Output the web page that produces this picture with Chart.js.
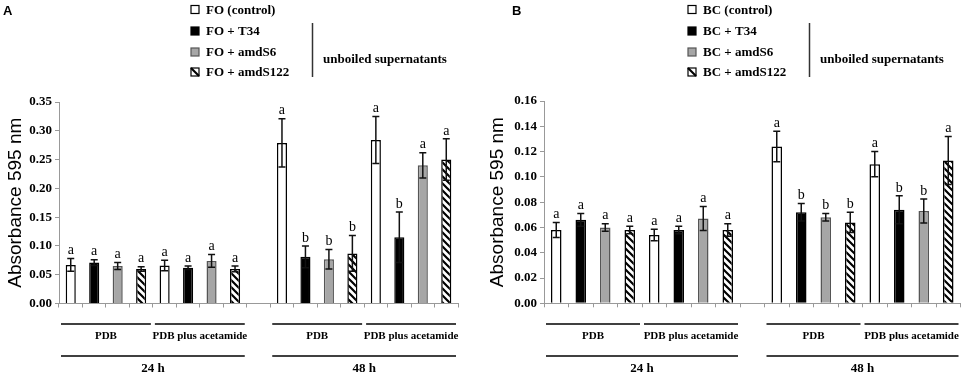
<!DOCTYPE html>
<html>
<head>
<meta charset="utf-8">
<script src="https://cdn.jsdelivr.net/npm/chart.js@4"></script>
<style>
  body { margin: 0; background: #fff; }
  canvas { position: absolute; top: 0; }
</style>
</head>
<body>
<canvas id="chartA" width="482" height="375" style="left:0"></canvas>
<canvas id="chartB" width="482" height="375" style="left:482px"></canvas>
<script>
// conditions, in the order they appear along the x axis
const conditions = ['24 h PDB', '24 h PDB plus acetamide', '48 h PDB', '48 h PDB plus acetamide'];
const treatments = ['control', 'T34', 'amdS6', 'amdS122'];
const mediumLabels = ['PDB', 'PDB plus acetamide', 'PDB', 'PDB plus acetamide'];
const timeLabels = ['24 h', '48 h'];

// panel A - Fusarium oxysporum
const foLabels = ['FO (control)', 'FO + T34', 'FO + amdS6', 'FO + amdS122'];
const foControl = [0.067, 0.066, 0.279, 0.284];
const foT34 = [0.071, 0.062, 0.081, 0.115];
const foAmdS6 = [0.065, 0.074, 0.077, 0.240];
const foAmdS122 = [0.060, 0.060, 0.087, 0.250];
const foControlErr = [0.011, 0.009, 0.042, 0.041];
const foT34Err = [0.005, 0.003, 0.019, 0.044];
const foAmdS6Err = [0.006, 0.011, 0.017, 0.022];
const foAmdS122Err = [0.004, 0.005, 0.031, 0.036];
const foControlSig = ['a', 'a', 'a', 'a'];
const foT34Sig = ['a', 'a', 'b', 'b'];
const foAmdS6Sig = ['a', 'a', 'b', 'a'];
const foAmdS122Sig = ['a', 'a', 'b', 'a'];
const foTicks = [0, 0.35, 0.05];

// panel B - Botrytis cinerea
const bcLabels = ['BC (control)', 'BC + T34', 'BC + amdS6', 'BC + amdS122'];
const bcControl = [0.058, 0.054, 0.124, 0.110];
const bcT34 = [0.066, 0.058, 0.072, 0.074];
const bcAmdS6 = [0.060, 0.067, 0.068, 0.073];
const bcAmdS122 = [0.058, 0.058, 0.064, 0.113];
const bcControlErr = [0.006, 0.0045, 0.012, 0.010];
const bcT34Err = [0.005, 0.003, 0.007, 0.011];
const bcAmdS6Err = [0.003, 0.0095, 0.003, 0.0095];
const bcAmdS122Err = [0.003, 0.005, 0.008, 0.019];
const bcControlSig = ['a', 'a', 'a', 'a'];
const bcT34Sig = ['a', 'a', 'b', 'b'];
const bcAmdS6Sig = ['a', 'a', 'b', 'b'];
const bcAmdS122Sig = ['a', 'a', 'b', 'a'];
const bcTicks = [0, 0.16, 0.02];

const SERIF = '"Liberation Serif", "Times New Roman", serif';
const SANS = '"Liberation Sans", Arial, sans-serif';

// 4 bars per condition, one empty slot between 24 h and 48 h
const slotOf = (c, k) => (c < 2 ? c * 4 + k : 9 + (c - 2) * 4 + k);
const categories = new Array(17).fill('');
conditions.forEach((c, ci) => treatments.forEach((t, k) => { categories[slotOf(ci, k)] = c + ' ' + t; }));

function spread(values, k) {
  const out = new Array(17).fill(null);
  values.forEach((v, ci) => { out[slotOf(ci, k)] = v; });
  return out;
}

function hatch() {
  const c = document.createElement('canvas');
  c.width = c.height = 7;
  const g = c.getContext('2d');
  g.fillStyle = '#fff';
  g.fillRect(0, 0, 7, 7);
  g.strokeStyle = '#000';
  g.lineWidth = 2.2;
  g.beginPath();
  g.moveTo(-1, -1); g.lineTo(8, 8);
  g.moveTo(-1, 6); g.lineTo(1, 8);
  g.moveTo(6, -1); g.lineTo(8, 1);
  g.stroke();
  return g.createPattern(c, 'repeat');
}

const fills = ['#ffffff', '#000000', '#a6a6a6', hatch()];
const borders = ['#000000', '#000000', '#555555', '#000000'];

// error bars and significance letters
const errorBars = {
  id: 'errorBars',
  afterDatasetsDraw(chart) {
    const ctx = chart.ctx;
    const y = chart.scales.y;
    ctx.save();
    chart.data.datasets.forEach((ds, i) => {
      chart.getDatasetMeta(i).data.forEach((bar, j) => {
        const v = ds.data[j];
        if (v == null) return;
        const e = ds.errors[j];
        const top = y.getPixelForValue(v + e);
        const bot = y.getPixelForValue(v - e);
        ctx.strokeStyle = '#111';
        ctx.lineWidth = 1.5;
        ctx.beginPath();
        ctx.moveTo(bar.x, top); ctx.lineTo(bar.x, bot);
        ctx.moveTo(bar.x - 3.5, top); ctx.lineTo(bar.x + 3.5, top);
        ctx.moveTo(bar.x - 3.5, bot); ctx.lineTo(bar.x + 3.5, bot);
        ctx.stroke();
        ctx.fillStyle = '#000';
        ctx.font = '14px ' + SERIF;
        ctx.textAlign = 'center';
        ctx.textBaseline = 'bottom';
        ctx.fillText(ds.letters[j], bar.x, top - 1);
      });
    });
    ctx.restore();
  }
};

// panel letter, legend and bracket labels under the axis
const panelDecor = {
  id: 'panelDecor',
  afterDraw(chart, args, opts) {
    const ctx = chart.ctx;
    const x = chart.scales.x;
    ctx.save();
    ctx.fillStyle = '#000';
    ctx.font = 'bold 13px ' + SANS;
    ctx.textBaseline = 'middle';
    ctx.textAlign = 'left';
    ctx.fillText(opts.letter, opts.letterX, 11);

    const rows = [9.5, 31, 52, 72];
    ctx.font = 'bold 13px ' + SERIF;
    chart.data.datasets.forEach((ds, i) => {
      const bx = opts.legendX, by = rows[i] - 4;
      ctx.fillStyle = i === 3 ? '#fff' : ds.backgroundColor;
      ctx.fillRect(bx, by, 8, 8);
      if (i === 3) {
        ctx.strokeStyle = '#000';
        ctx.lineWidth = 2.2;
        ctx.beginPath(); ctx.moveTo(bx, by); ctx.lineTo(bx + 8, by + 8); ctx.stroke();
      }
      ctx.strokeStyle = i === 2 ? '#555' : '#000';
      ctx.lineWidth = 1.2;
      ctx.strokeRect(bx, by, 8, 8);
      ctx.fillStyle = '#000';
      ctx.fillText(ds.label, bx + 15, rows[i] + 1);
    });
    ctx.strokeStyle = '#333';
    ctx.lineWidth = 1.5;
    ctx.beginPath(); ctx.moveTo(opts.lineX, 23); ctx.lineTo(opts.lineX, 77); ctx.stroke();
    ctx.fillText('unboiled supernatants', opts.noteX, 60);

    // brackets
    const half = (x.getPixelForValue(1) - x.getPixelForValue(0)) / 2;
    const left = (i) => x.getPixelForValue(i) - half;
    const right = (i) => x.getPixelForValue(i) + half;
    ctx.strokeStyle = '#000';
    ctx.lineWidth = 1.5;
    ctx.textAlign = 'center';
    conditions.forEach((c, ci) => {
      const a = left(slotOf(ci, 0)) + 2, b = right(slotOf(ci, 3)) - 2;
      ctx.beginPath(); ctx.moveTo(a, 324); ctx.lineTo(b, 324); ctx.stroke();
      ctx.font = 'bold 11px ' + SERIF;
      ctx.fillText(mediumLabels[ci], (a + b) / 2, 336);
    });
    timeLabels.forEach((t, ti) => {
      const a = left(slotOf(ti * 2, 0)) + 2, b = right(slotOf(ti * 2 + 1, 3)) - 2;
      ctx.beginPath(); ctx.moveTo(a, 356); ctx.lineTo(b, 356); ctx.stroke();
      ctx.font = 'bold 13px ' + SERIF;
      ctx.fillText(t, (a + b) / 2, 369);
    });
    ctx.restore();
  }
};

function renderPanel(canvasId, p) {
  const datasets = p.labels.map((label, k) => ({
    label: label,
    data: spread(p.means[k], k),
    errors: spread(p.errs[k], k),
    letters: spread(p.sig[k], k),
    backgroundColor: fills[k],
    borderColor: borders[k],
    borderWidth: 1.5,
    grouped: false,
    barPercentage: 0.43,
    categoryPercentage: 1
  }));
  const ctx = document.getElementById(canvasId).getContext('2d');
  return new Chart(ctx, {
    type: 'bar',
    data: { labels: categories, datasets: datasets },
    options: {
      responsive: false,
      animation: false,
      devicePixelRatio: 1,
      layout: { padding: { top: p.top, right: p.right, bottom: 0, left: 0 } },
      plugins: {
        legend: { display: false },
        tooltip: { enabled: false },
        panelDecor: p.decor
      },
      scales: {
        x: {
          ticks: { display: false },
          grid: { drawOnChartArea: false, tickLength: 4, color: '#999', offset: true },
          border: { color: '#999' },
          afterFit: (s) => { s.height = 375 - p.bottom; }
        },
        y: {
          min: p.ticks[0],
          max: p.ticks[1],
          ticks: {
            stepSize: p.ticks[2],
            padding: 3,
            color: '#000',
            font: { family: SERIF, size: 13, weight: 'bold' },
            callback: (v) => v.toFixed(2)
          },
          grid: { drawOnChartArea: false, tickLength: 4, color: '#999' },
          border: { color: '#999' },
          title: {
            display: true,
            text: 'Absorbance 595 nm',
            color: '#000',
            font: { family: SANS, size: 19 },
            padding: { top: 4, bottom: 0 }
          },
          afterFit: (s) => { s.width = p.axisWidth; }
        }
      }
    },
    plugins: [errorBars, panelDecor]
  });
}

renderPanel('chartA', {
  labels: foLabels,
  means: [foControl, foT34, foAmdS6, foAmdS122],
  errs: [foControlErr, foT34Err, foAmdS6Err, foAmdS122Err],
  sig: [foControlSig, foT34Sig, foAmdS6Sig, foAmdS122Sig],
  ticks: foTicks,
  axisWidth: 59, top: 102, bottom: 303.5, right: 24,
  decor: { letter: 'A', letterX: 3, legendX: 191, lineX: 312.5, noteX: 323 }
});

renderPanel('chartB', {
  labels: bcLabels,
  means: [bcControl, bcT34, bcAmdS6, bcAmdS122],
  errs: [bcControlErr, bcT34Err, bcAmdS6Err, bcAmdS122Err],
  sig: [bcControlSig, bcT34Sig, bcAmdS6Sig, bcAmdS122Sig],
  ticks: bcTicks,
  axisWidth: 62, top: 101, bottom: 303.3, right: 3.5,
  decor: { letter: 'B', letterX: 30, legendX: 206, lineX: 327.5, noteX: 338 }
});
</script>
</body>
</html>
